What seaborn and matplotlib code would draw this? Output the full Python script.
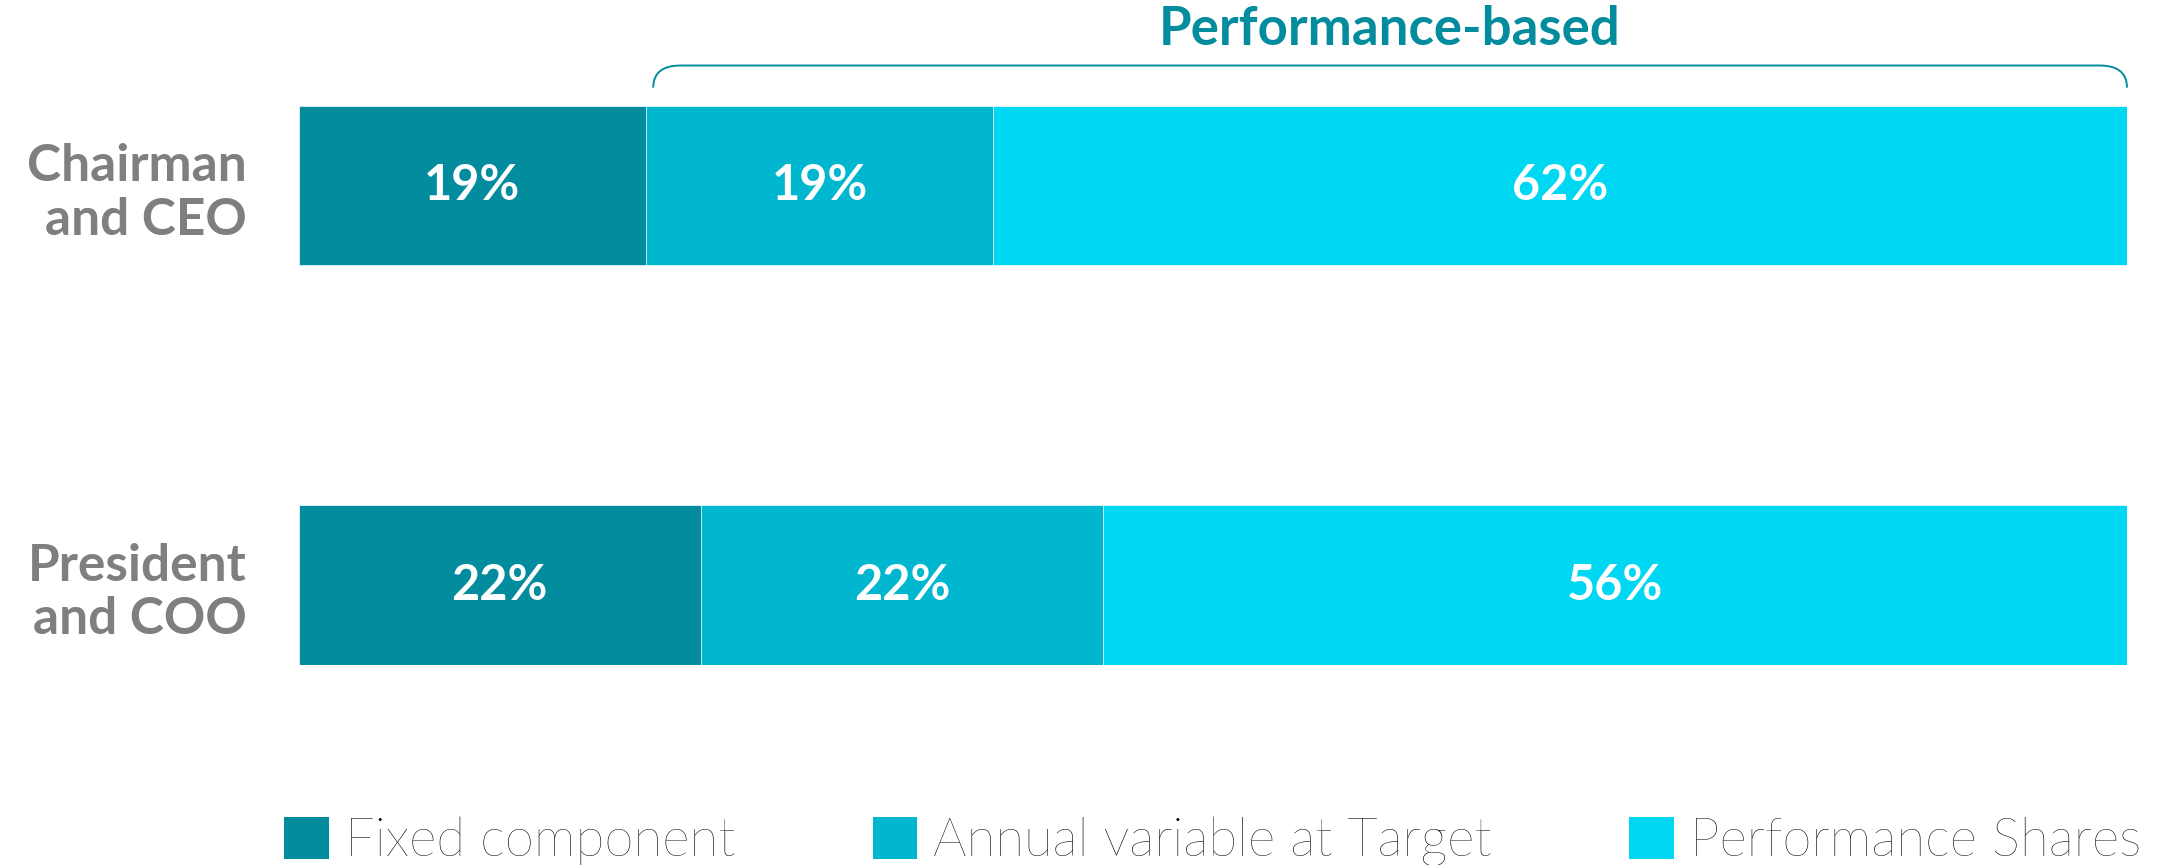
import matplotlib
matplotlib.use("Agg")
import matplotlib.pyplot as plt
from matplotlib.patches import Patch, PathPatch
from matplotlib.path import Path
from matplotlib.transforms import blended_transform_factory
import numpy as np
import pandas as pd
import seaborn as sns

roles = ["Chairman\nand CEO", "President\nand COO"]
components = ["Fixed component", "Annual variable at Target", "Performance Shares"]
fixed = [19, 22]
annual = [19, 22]
performance = [62, 56]
colors = ["#028C9E", "#00B7CF", "#00D7F3"]
bracket_title = "Performance-based"

sns.set_theme(style="white")
plt.rcParams["font.family"] = ["Lato", "DejaVu Sans"]

fig = plt.figure(figsize=(21.77, 8.65), dpi=100)
ax = fig.add_axes([298.5 / 2177, 1 - 665 / 865, (2127 - 298.5) / 2177, (665 - 105.5) / 865])

series = [fixed, annual, performance]
cum = np.cumsum(np.array(series), axis=0)

# stacked bars: draw cumulative totals from the outermost layer inward
for i in reversed(range(len(components))):
    df = pd.DataFrame({"role": roles, "value": cum[i]})
    sns.barplot(data=df, x="value", y="role", orient="h", color=colors[i],
                width=0.4, saturation=1, edgecolor="#E6F8FB", linewidth=0.6, ax=ax)

# segment labels
for i in range(len(components)):
    for j in range(len(roles)):
        start = cum[i][j] - series[i][j]
        ax.text(start + series[i][j] / 2, j, f"{series[i][j]}%", ha="center", va="center",
                color="white", fontsize=35, fontweight="bold")

ax.set_xlim(0, 100)
ax.set_ylim(1.2, -0.2)
ax.set_xlabel("")
ax.set_ylabel("")
ax.set_xticks([])
for s in ax.spines.values():
    s.set_visible(False)
ax.tick_params(axis="y", length=0, pad=37)
for lab in ax.get_yticklabels():
    lab.set_fontsize(37)
    lab.set_fontweight("bold")
    lab.set_color("#7F7F7F")
    lab.set_linespacing(1.18)

# bracket over the performance-based components
trans = blended_transform_factory(ax.transData, ax.transAxes)
x0, x1 = 19.4, 100.0
y_end, y_top = 1.032, 1.0715
r = 1.5
verts = [(x0, y_end), (x0, y_top), (x0 + r, y_top),
         (x1 - r, y_top),
         (x1, y_top), (x1, y_end)]
codes = [Path.MOVETO, Path.CURVE3, Path.CURVE3, Path.LINETO, Path.CURVE3, Path.CURVE3]
ax.add_patch(PathPatch(Path(verts, codes), transform=trans, fill=False,
                       edgecolor="#028C9E", linewidth=1.4, clip_on=False))
ax.text((x0 + x1) / 2, 1.135, bracket_title, transform=trans, ha="center", va="center",
        fontsize=38, fontweight="bold", color="#028C9E")

handles = [Patch(facecolor=c, edgecolor="none", label=n) for c, n in zip(colors, components)]
leg = fig.legend(handles=handles, loc="center", bbox_to_anchor=(0.557, 0.027), ncol=3,
                 frameon=False, handlelength=0.85, handleheight=0.85,
                 handletextpad=0.3, columnspacing=2.6,
                 prop={"size": 38, "weight": "light"})
for t in leg.get_texts():
    t.set_color("black")

fig.savefig("out.png", dpi=100, facecolor="white")
